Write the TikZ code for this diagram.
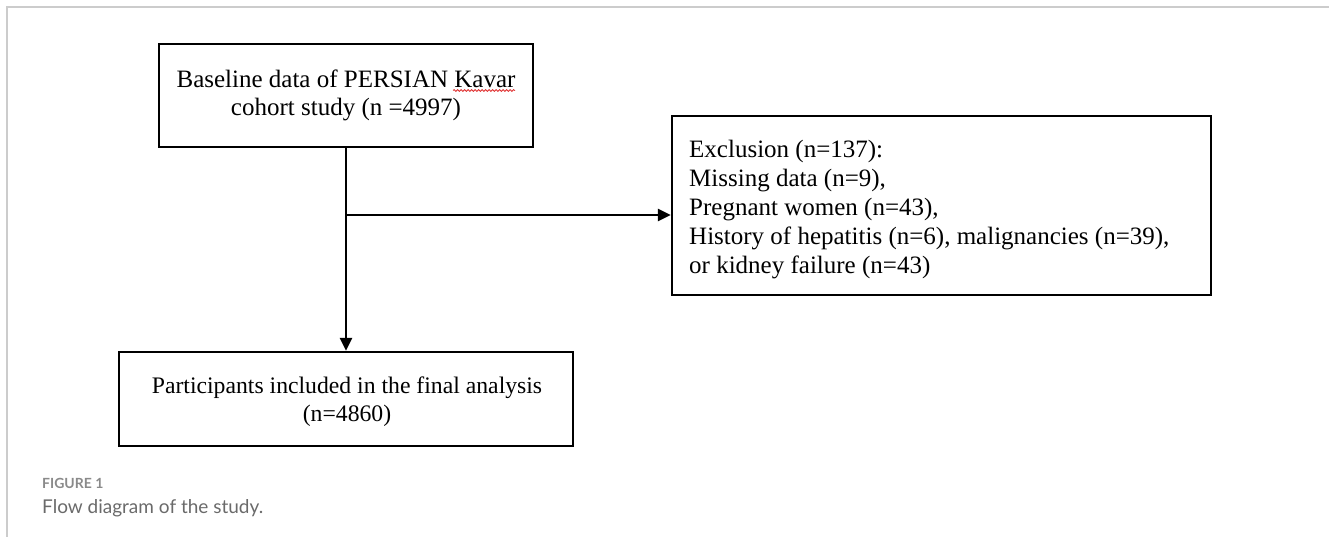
\documentclass[tikz,border=0pt]{standalone}
\usepackage{fontspec}
\setmainfont{Liberation Serif}
\newfontfamily\capfont{Lato}
\usetikzlibrary{arrows.meta,decorations.pathmorphing}
\definecolor{framegray}{HTML}{CCCCCC}
\definecolor{figgray}{HTML}{8A8A8A}
\definecolor{capgray}{HTML}{6A6A6A}
\definecolor{spellred}{HTML}{E03030}
\tikzset{
  flowbox/.style={draw=black, line width=2.3pt, inner sep=0pt, fill=white,
    font=\fontsize{25}{28}\selectfont},
  flowarrow/.style={draw=black, line width=2.3pt,
    -{Triangle[length=13pt,width=12pt]}},
  flowline/.style={draw=black, line width=2.3pt},
}
\begin{document}
\begin{tikzpicture}[x=1pt,y=-1pt]
\useasboundingbox (0,0) rectangle (1329,537);
% frame
\draw[framegray, line width=1.5pt] (7,537) -- (7,7) -- (1329,7);
% boxes
\node[flowbox, minimum width=374pt, minimum height=103pt, align=center] (base) at (346,95.5)
  {Baseline data of PERSIAN Kavar\\cohort study (n =4997)};
\node[flowbox, minimum width=539pt, minimum height=179pt] (excl) at (941.5,205.5) {};
\node[anchor=west, inner sep=0pt, align=left, font=\fontsize{25}{29}\selectfont] (excltext) at (689,209.5)
  {Exclusion (n=137):\\Missing data (n=9),\\Pregnant women (n=43),\\History of hepatitis (n=6), malignancies (n=39),\\or kidney failure (n=43)};
\node[flowbox, minimum width=454pt, minimum height=94pt] (final) at (346,399) {};
\node[align=center, inner sep=0pt, font=\fontsize{23.7}{28}\selectfont] (finaltext) at (347,402)
  {Participants included in the final analysis\\(n=4860)};
% connectors
\coordinate (branch) at (346,215);
\draw[flowline] (base.south) -- (branch);
\draw[flowarrow] (branch) -- (branch -| excl.west);
\draw[flowarrow] (branch) -- (final.north);
% spell-check wave
\draw[spellred, line width=0.8pt, decorate, decoration={snake, amplitude=0.9pt, segment length=3.5pt}] (453,90.5) -- (515,90.5);
% caption
\node[anchor=base west, inner sep=0pt, text=figgray, font=\capfont\bfseries\fontsize{14}{17}\selectfont] (figlabel) at (42,488) {FIGURE 1};
\node[anchor=base west, inner sep=0pt, text=capgray, font=\capfont\fontsize{19}{23}\selectfont] (caption) at (42,513) {Flow diagram of the study.};
\end{tikzpicture}
\end{document}
